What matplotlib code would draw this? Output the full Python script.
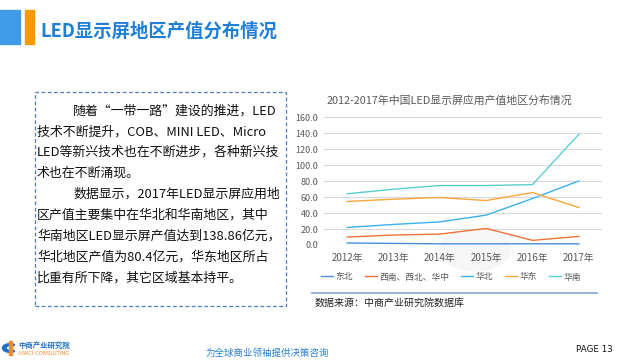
import matplotlib
matplotlib.use('Agg')
import matplotlib.pyplot as plt
from matplotlib.patches import Rectangle, Wedge, Circle

plt.rcParams['font.family'] = ['Noto Sans CJK SC', 'DejaVu Sans']

years = ['2012年', '2013年', '2014年', '2015年', '2016年', '2017年']
regions = ['东北', '西南、西北、华中', '华北', '华东', '华南']
dongbei = [2.5, 2.0, 1.5, 1.5, 1.5, 1.5]
xinan = [10.0, 12.5, 13.7, 20.8, 5.8, 10.8]
huabei = [22.0, 25.8, 29.0, 37.5, 58.3, 80.4]
huadong = [54.6, 57.5, 59.6, 55.8, 65.8, 47.0]
huanan = [64.3, 70.0, 74.6, 74.6, 75.8, 138.86]
yticks = [0, 20, 40, 60, 80, 100, 120, 140, 160]

colors = ['#4a8fdc', '#f2703a', '#3ab2f0', '#f8a63a', '#5acfcf']

body = [
    (73, '随着“一带一路”建设的推进，LED'),
    (37, '技术不断提升，COB、MINI LED、Micro'),
    (37, 'LED等新兴技术也在不断进步，各种新兴技'),
    (37, '术也在不断涌现。'),
    (73, '数据显示，2017年LED显示屏应用地'),
    (37, '区产值主要集中在华北和华南地区，其中'),
    (37, '华南地区LED显示屏产值达到138.86亿元，'),
    (37, '华北地区产值为80.4亿元，华东地区所占'),
    (37, '比重有所下降，其它区域基本持平。'),
]

W, H = 625, 360
fig = plt.figure(figsize=(6.25, 3.6), dpi=100)


def fx(x):
    return x / W


def fy(y):
    return 1 - y / H


# faint watermark circle (behind everything)
fig.patches.append(Circle((fx(475), fy(250)), 36 / W, transform=fig.transFigure,
                          color='#f6f6f6', zorder=-5))

# title block
fig.patches.append(Rectangle((0, fy(44)), fx(20), 34 / H, transform=fig.transFigure,
                             color='#3f9be8', zorder=1))
fig.patches.append(Rectangle((fx(25), fy(44)), fx(9), 34 / H, transform=fig.transFigure,
                             color='#f79a00', zorder=1))
fig.text(fx(40), fy(31), 'LED显示屏地区产值分布情况', fontsize=13.2, fontweight='bold',
         color='#1f7fd6', va='center', ha='left')

# dashed text box
fig.patches.append(Rectangle((fx(35), fy(306)), (286 - 35) / W, (306 - 92) / H,
                             transform=fig.transFigure, fill=False, edgecolor='#4a7cc7',
                             linestyle=(0, (3, 2)), linewidth=0.9, zorder=2))
for i, (x0, line) in enumerate(body):
    fig.text(fx(x0), fy(110.7 + i * 20.9), line, fontsize=9.3, color='#111111',
             va='center', ha='left')

# chart
ax = fig.add_axes([fx(324), fy(245), (602 - 324) / W, (245 - 117.5) / H])
ax.patch.set_alpha(0)
series = [dongbei, xinan, huabei, huadong, huanan]
x = list(range(len(years)))
handles = []
for vals, c, name in zip(series, colors, regions):
    h, = ax.plot(x, vals, color=c, linewidth=1.0, label=name, zorder=3)
    handles.append(h)
ax.set_xlim(-0.5, 5.5)
ax.set_ylim(0, 160)
ax.set_yticks(yticks)
ax.set_yticklabels(['%.1f' % v for v in yticks])
ax.set_xticks(x)
ax.set_xticklabels(years)
ax.grid(axis='y', color='#d9d9d9', linewidth=0.8)
ax.set_axisbelow(True)
for s in ax.spines.values():
    s.set_visible(False)
ax.tick_params(length=0, labelsize=6.5, colors='#595959', pad=4)
ax.tick_params(axis='x', pad=6, labelsize=7)

fig.text(fx(327), fy(100.7), '2012-2017年中国LED显示屏应用产值地区分布情况',
         fontsize=7.8, color='#595959', va='center', ha='left')

fig.legend(handles=handles, loc='center left', bbox_to_anchor=(fx(321), fy(277)),
           ncol=5, frameon=False, fontsize=6.3, handlelength=1.4, handletextpad=0.3,
           columnspacing=1.3, borderaxespad=0, borderpad=0, labelcolor='#595959')

# source line
fig.add_artist(plt.Line2D([fx(312), fx(597)], [fy(293.3), fy(293.3)],
                          color='#8eaadb', linewidth=1.3, transform=fig.transFigure))
fig.text(fx(315), fy(303), '数据来源：中商产业研究院数据库', fontsize=7.2,
         color='#222222', va='center', ha='left')

# footer
fig.patches.append(Wedge((fx(10), fy(348)), 7.5 / W, 50, 310, width=3.5 / W,
                         transform=fig.transFigure, color='#1f6fc5'))
fig.patches.append(Rectangle((fx(9), fy(355)), 3 / W, 14 / H, transform=fig.transFigure,
                             color='#f08a24'))
fig.text(fx(18), fy(345.5), '中商产业研究院', fontsize=5.3, fontweight='bold',
         color='#1f6fc5', va='center', ha='left')
fig.text(fx(18), fy(353.5), 'ASKCI CONSULTING', fontsize=3.9, color='#f08a24',
         va='center', ha='left', family='DejaVu Sans')
fig.text(fx(267), fy(353), '为全球商业领袖提供决策咨询', fontsize=6.8, style='italic',
         color='#2a7fd4', va='center', ha='center')
fig.text(fx(613), fy(349.5), 'PAGE 13', fontsize=6.3, color='#111111',
         va='center', ha='right', family='DejaVu Sans')

fig.savefig('out.png', dpi=100)
